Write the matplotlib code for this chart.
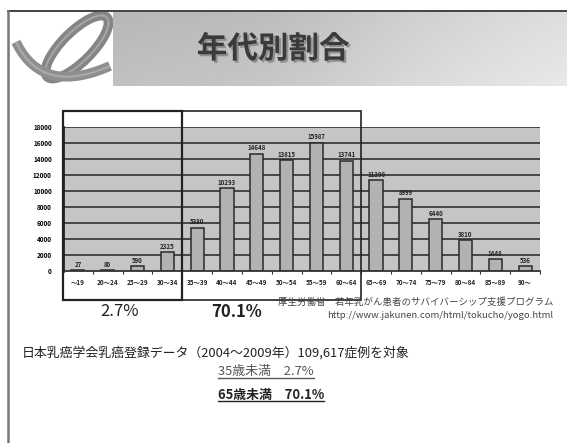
import numpy as np
import matplotlib
matplotlib.use("Agg")
from matplotlib import pyplot as plt
from matplotlib import patheffects as pe
from matplotlib.patches import Rectangle, Ellipse
from matplotlib.lines import Line2D

plt.rcParams['font.family'] = ['Noto Sans CJK JP', 'DejaVu Sans']

# data
categories = ['〜19', '20〜24', '25〜29', '30〜34', '35〜39', '40〜44', '45〜49', '50〜54',
              '55〜59', '60〜64', '65〜69', '70〜74', '75〜79', '80〜84', '85〜89', '90〜']
counts = [27, 80, 590, 2325, 5380, 10293, 14648, 13815,
          15987, 13741, 11298, 8999, 6440, 3810, 1448, 536]
yticks = list(range(0, 18001, 2000))
title = '年代別割合'
share_labels = ['2.7%', '70.1%']
source_lines = ['厚生労働省　若年乳がん患者のサバイバーシップ支援プログラム',
                'http://www.jakunen.com/html/tokucho/yogo.html']
note = '日本乳癌学会乳癌登録データ（2004～2009年）109,617症例を対象'
summary = ['35歳未満　2.7%', '65歳未満　70.1%']

W, H = 567, 443
fig = plt.figure(figsize=(W / 100, H / 100), dpi=100)
fig.patch.set_facecolor('white')


def fx(px):
    return px / W


def fy(py):
    return 1 - py / H


def px_axes(x0, y0, x1, y1):
    return fig.add_axes([fx(x0), fy(y1), fx(x1) - fx(x0), fy(y0) - fy(y1)])


# header band with gradient
hdr = px_axes(113, 12, W, 86)
gx = np.linspace(0, 1, 300)
gy = np.linspace(0, 1, 60)
GX, GY = np.meshgrid(gx, gy)
shade = 0.72 + 0.15 * GX + 0.04 * GY - 0.03 * np.exp(-((GX - 0.35) / 0.25) ** 2)
hdr.imshow(shade, cmap='gray', vmin=0, vmax=1, aspect='auto', extent=[0, 1, 0, 1])
hdr.set_axis_off()
fig.text(fx(273), fy(49), title, fontsize=22, fontweight='bold',
         color='#3a3a3a', ha='center', va='center',
         path_effects=[pe.withSimplePatchShadow(offset=(1.5, -1.5),
                                                shadow_rgbFace='#8a8a8a', alpha=0.9)])

# logo (ribbon loop)
logo = px_axes(10, 12, 113, 86)
logo.set_xlim(10, 113)
logo.set_ylim(86, 12)
logo.set_axis_off()
logo.add_patch(Ellipse((77, 47), 84, 30, angle=-45, fill=False, lw=7, ec='#858585'))
logo.add_patch(Ellipse((77, 47), 84, 30, angle=-45, fill=False, lw=1.5, ec='#a5a5a5'))
tt = np.linspace(0, 1, 40)
p0, p1, p2 = np.array([16, 42]), np.array([42, 96]), np.array([110, 66])
tail = np.outer((1 - tt) ** 2, p0) + np.outer(2 * (1 - tt) * tt, p1) + np.outer(tt ** 2, p2)
logo.plot(tail[:, 0], tail[:, 1], color='#8f8f8f', lw=7, solid_capstyle='butt')
logo.plot(tail[:, 0], tail[:, 1], color='#aaaaaa', lw=1.5, solid_capstyle='butt')

# frame lines
fig.add_artist(Line2D([fx(8), 1], [fy(11), fy(11)], color='#222222', lw=1.2))
fig.add_artist(Line2D([fx(8), fx(8)], [fy(11), 0], color='#777777', lw=1.8))

# bar chart
ax = px_axes(63, 126.7, 540, 270.7)
x = np.arange(len(categories))
ax.set_xlim(-0.5, len(categories) - 0.5)
ax.set_ylim(0, 18000)
ax.set_facecolor('#c5c5c5')
for t in yticks[1:]:
    ax.axhline(t, color='#3c3c3c', lw=1.3, zorder=1)
ax.bar(x, counts, width=0.44, color='#b2b2b2', edgecolor='#2a2a2a', lw=1.1, zorder=2)
for xi, v in zip(x, counts):
    ax.text(xi, v + 300, str(v), ha='center', va='bottom', fontsize=4.4,
            fontweight='bold', color='#222222', zorder=3)
ax.set_yticks(yticks)
ax.set_yticklabels([str(t) for t in yticks], fontsize=4.6, fontweight='bold')
ax.tick_params(axis='y', length=0, pad=8)
ax.set_xticks(x)
ax.set_xticklabels(categories, fontsize=4.6, fontweight='bold', color='#222222')
ax.tick_params(axis='x', length=0, pad=6)
ax.set_xticks(np.arange(-0.5, len(categories), 1), minor=True)
ax.tick_params(axis='x', which='minor', length=2, width=0.8, color='#333333')
for s in ['top', 'right']:
    ax.spines[s].set_visible(False)
ax.spines['bottom'].set_color('#333333')
ax.spines['bottom'].set_linewidth(1.3)
ax.spines['left'].set_color('#222222')
ax.spines['left'].set_linewidth(2)

# range boxes around age groups
per_px = 18000 / 144.0
y_top = (270.7 - 111) * per_px
y_bot = (270.7 - 300) * per_px
ax.add_patch(Rectangle((-0.5, y_bot), 4, y_top - y_bot, fill=False, ec='#222222',
                       lw=1.6, clip_on=False, zorder=4))
ax.add_patch(Rectangle((3.5, y_bot), 6, y_top - y_bot, fill=False, ec='#222222',
                       lw=1.2, clip_on=False, zorder=4))

# shares under the boxes
fig.text(fx(120), fy(312), share_labels[0], fontsize=12, color='#222222',
         ha='center', va='center')
fig.text(fx(237), fy(312), share_labels[1], fontsize=12, fontweight='bold',
         color='#222222', ha='center', va='center')
fig.text(fx(553), fy(302), source_lines[0], fontsize=6.8, color='#444444',
         ha='right', va='center')
fig.text(fx(553), fy(315), source_lines[1], fontsize=6.8, color='#444444',
         ha='right', va='center')

# notes
fig.text(fx(22), fy(353), note, fontsize=9.3, color='#222222', ha='left', va='center')
s1 = fig.text(fx(218), fy(372), summary[0], fontsize=9.3, color='#555555',
              ha='left', va='center')
s2 = fig.text(fx(218), fy(395), summary[1], fontsize=9.3, fontweight='bold',
              color='#222222', ha='left', va='center')

# underline the summary lines
fig.canvas.draw()
r = fig.canvas.get_renderer()
for t, c in [(s1, '#555555'), (s2, '#222222')]:
    bb = t.get_window_extent(r)
    yl = (bb.y0 + 1) / H
    fig.add_artist(Line2D([bb.x0 / W, bb.x1 / W], [yl, yl], color=c, lw=1))

fig.savefig('out.png', dpi=100)
